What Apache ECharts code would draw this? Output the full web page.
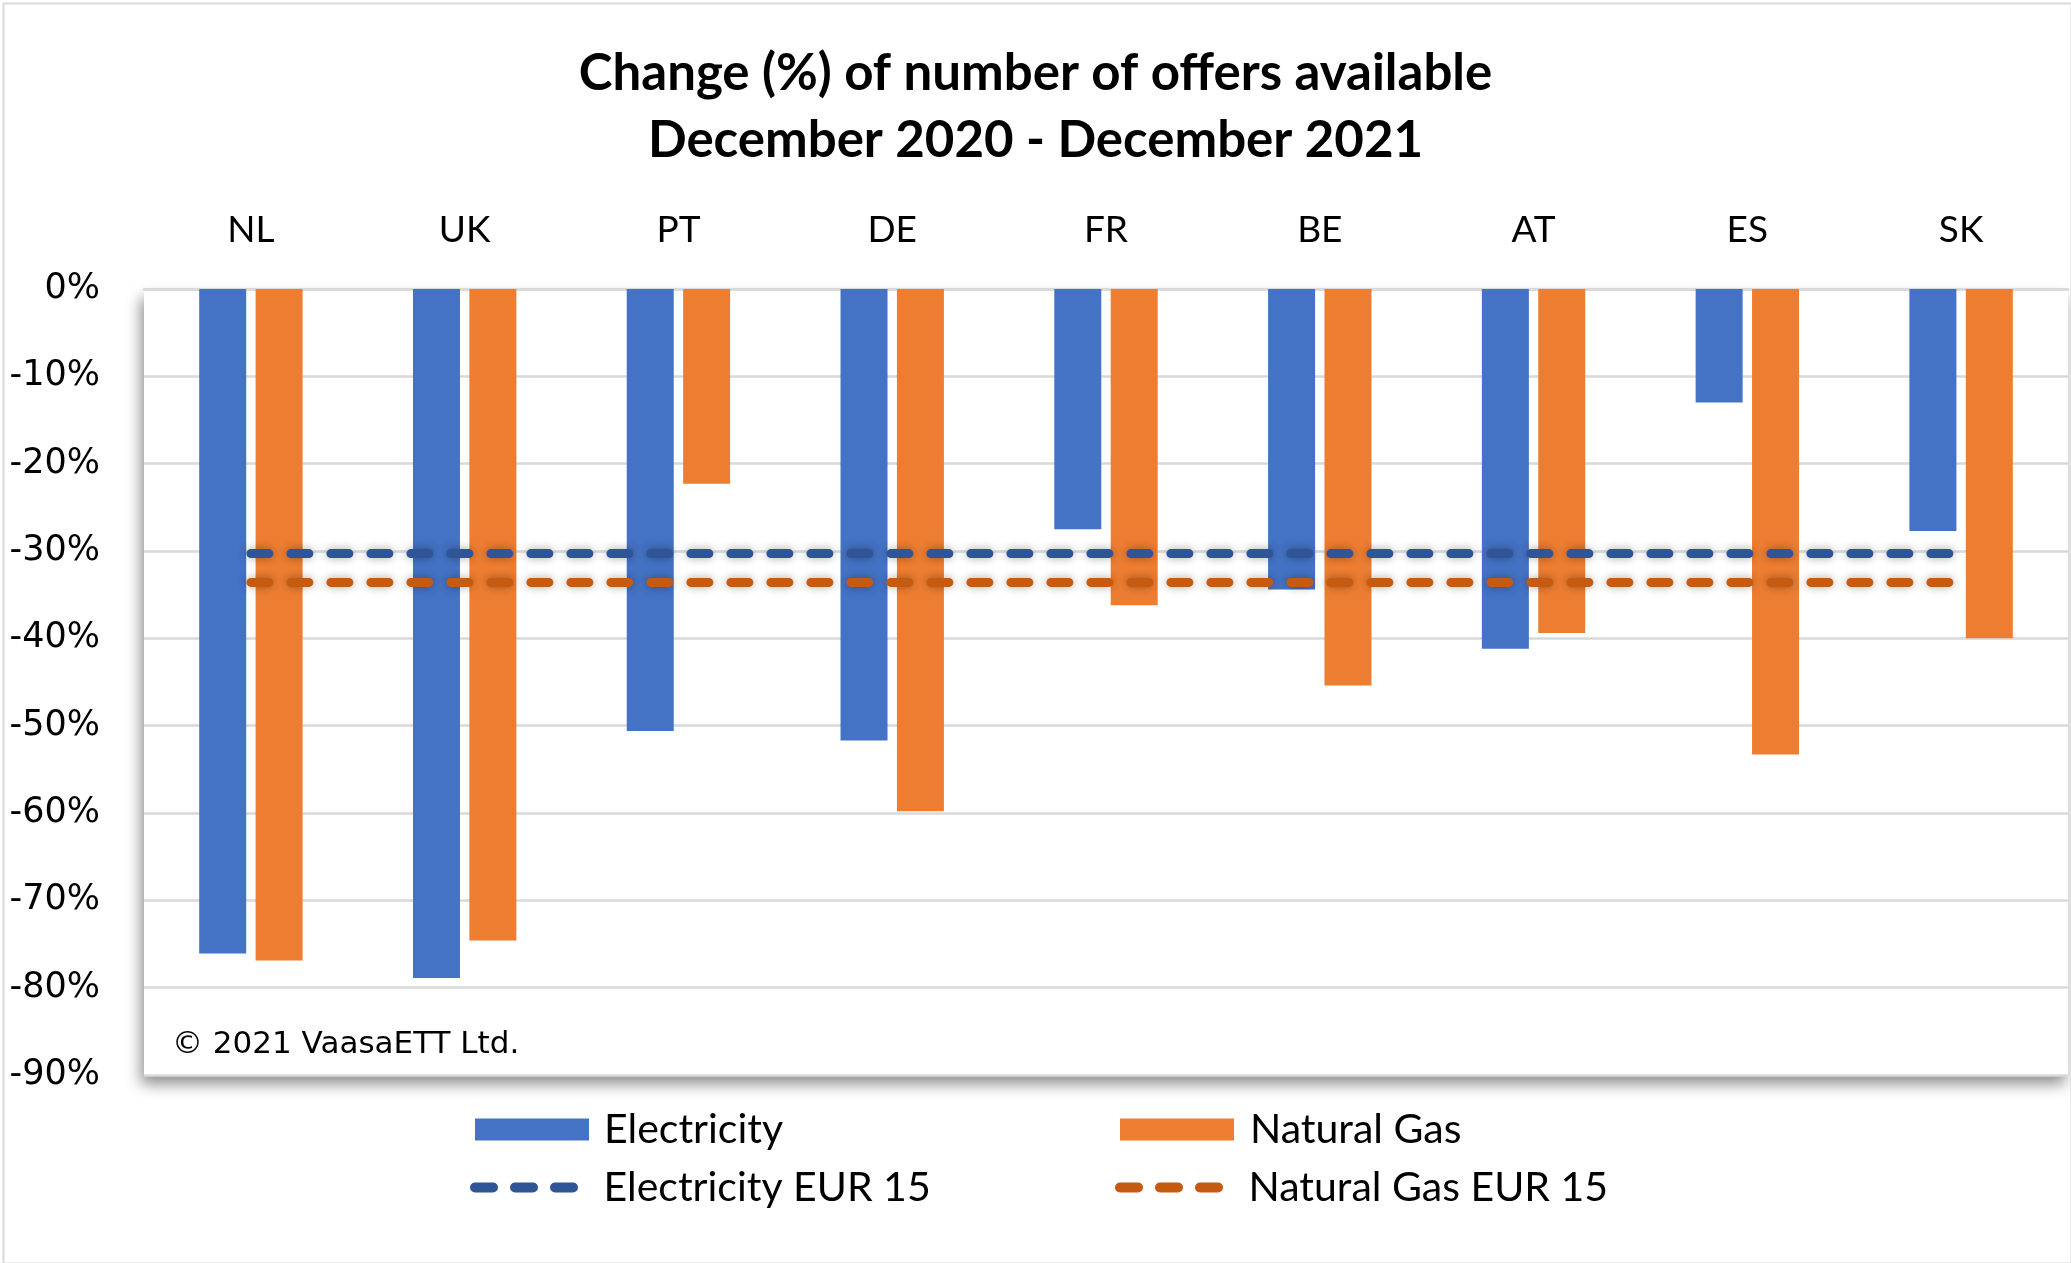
<!DOCTYPE html>
<html>
<head>
<meta charset="utf-8">
<script src="https://cdn.jsdelivr.net/npm/echarts@6/dist/echarts.min.js"></script>
<style>
html,body{margin:0;padding:0;background:#fff;}
#chart{width:2071px;height:1263px;}
</style>
</head>
<body>
<div id="chart"></div>
<script>
const categories = ['NL','UK','PT','DE','FR','BE','AT','ES','SK'];
const electricity = [-76.1, -78.9, -50.6, -51.7, -27.5, -34.4, -41.2, -13.0, -27.7];
const naturalGas = [-76.9, -74.6, -22.3, -59.8, -36.2, -45.4, -39.4, -53.3, -40.0];
const electricityEur15 = [-30.3, -30.3, -30.3, -30.3, -30.3, -30.3, -30.3, -30.3, -30.3];
const naturalGasEur15 = [-33.6, -33.6, -33.6, -33.6, -33.6, -33.6, -33.6, -33.6, -33.6];
const yTicks = { min: -90, max: 0, interval: 10 };

const sansCal = 'Lato, "Open Sans", sans-serif';
const sansVer = '"DejaVu Sans", Verdana, sans-serif';
const dashIcon = 'path://M5,0H23A5,5,0,0,1,23,10H5A5,5,0,0,1,5,0ZM45,0H63A5,5,0,0,1,63,10H45A5,5,0,0,1,45,0ZM85,0H103A5,5,0,0,1,103,10H85A5,5,0,0,1,85,0Z';

function legendItem(name, left, top, w, h, icon, pad) {
  return {
    data: [name], left: left, top: top, padding: 0,
    itemWidth: w, itemHeight: h, icon: icon,
    selectedMode: false,
    textStyle: { fontFamily: sansCal, fontSize: 41, color: '#000', padding: [0, 0, 0, pad] }
  };
}

const chart = echarts.init(document.getElementById('chart'));
chart.setOption({
  backgroundColor: '#fff',
  animation: false,
  title: {
    text: 'Change (%) of number of offers available\nDecember 2020 - December 2021',
    left: 'center', top: 35,
    textStyle: { fontFamily: sansCal, fontWeight: 'bold', fontSize: 51, lineHeight: 67, color: '#000' }
  },
  grid: {
    left: 144, right: 3, top: 289, bottom: 188,
    show: true, backgroundColor: '#fff', borderWidth: 0,
    shadowColor: 'rgba(0,0,0,0.45)', shadowBlur: 14, shadowOffsetX: -3, shadowOffsetY: 9
  },
  legend: [
    legendItem('Electricity', 475, 1109, 114, 22, 'rect', 10),
    legendItem('Natural Gas', 1120, 1109, 114, 22, 'rect', 11),
    legendItem('Electricity EUR 15', 470, 1167, 109, 10, dashIcon, 20),
    legendItem('Natural Gas EUR 15', 1115, 1167, 111, 10, dashIcon, 19)
  ],
  xAxis: {
    type: 'category', data: categories, position: 'top',
    axisLine: { show: true, lineStyle: { color: '#D9D9D9', width: 2.5 } },
    axisTick: { show: false },
    axisLabel: { margin: 40, fontFamily: sansCal, fontSize: 37, color: '#000' }
  },
  yAxis: {
    type: 'value', min: yTicks.min, max: yTicks.max, interval: yTicks.interval,
    axisLine: { show: false }, axisTick: { show: false },
    splitLine: { lineStyle: { color: '#D9D9D9', width: 2.5 } },
    axisLabel: { formatter: '{value}%', margin: 44, fontFamily: sansVer, fontSize: 35, color: '#000',
      lineHeight: 35, padding: [10, 0, 0, 0] }
  },
  series: [
    { name: 'Electricity', type: 'bar', data: electricity, barWidth: 47, barGap: '20%',
      itemStyle: { color: '#4472C4' }, z: 2 },
    { name: 'Natural Gas', type: 'bar', data: naturalGas, barWidth: 47, barGap: '20%',
      itemStyle: { color: '#ED7D31' }, z: 2 },
    { name: 'Electricity EUR 15', type: 'line', data: electricityEur15, symbol: 'none',
      itemStyle: { color: '#2F5597' }, z: 4,
      lineStyle: { color: '#2F5597', width: 9, type: [18, 22], cap: 'round',
        shadowBlur: 10, shadowColor: 'rgba(0,0,0,0.35)' } },
    { name: 'Natural Gas EUR 15', type: 'line', data: naturalGasEur15, symbol: 'none',
      itemStyle: { color: '#C55A11' }, z: 4,
      lineStyle: { color: '#C55A11', width: 9, type: [18, 22], cap: 'round',
        shadowBlur: 10, shadowColor: 'rgba(0,0,0,0.35)' } }
  ],
  graphic: [
    { type: 'rect', left: 1, top: 1, z: 100, silent: true,
      shape: { width: 2068, height: 1260 },
      style: { fill: 'none', stroke: '#D9D9D9', lineWidth: 2 } },
    { type: 'text', left: 172, top: 1029, z: 100,
      style: { text: '© 2021 VaasaETT Ltd.', fontFamily: sansVer, fontSize: 31, fill: '#000' } }
  ]
});
</script>
</body>
</html>
